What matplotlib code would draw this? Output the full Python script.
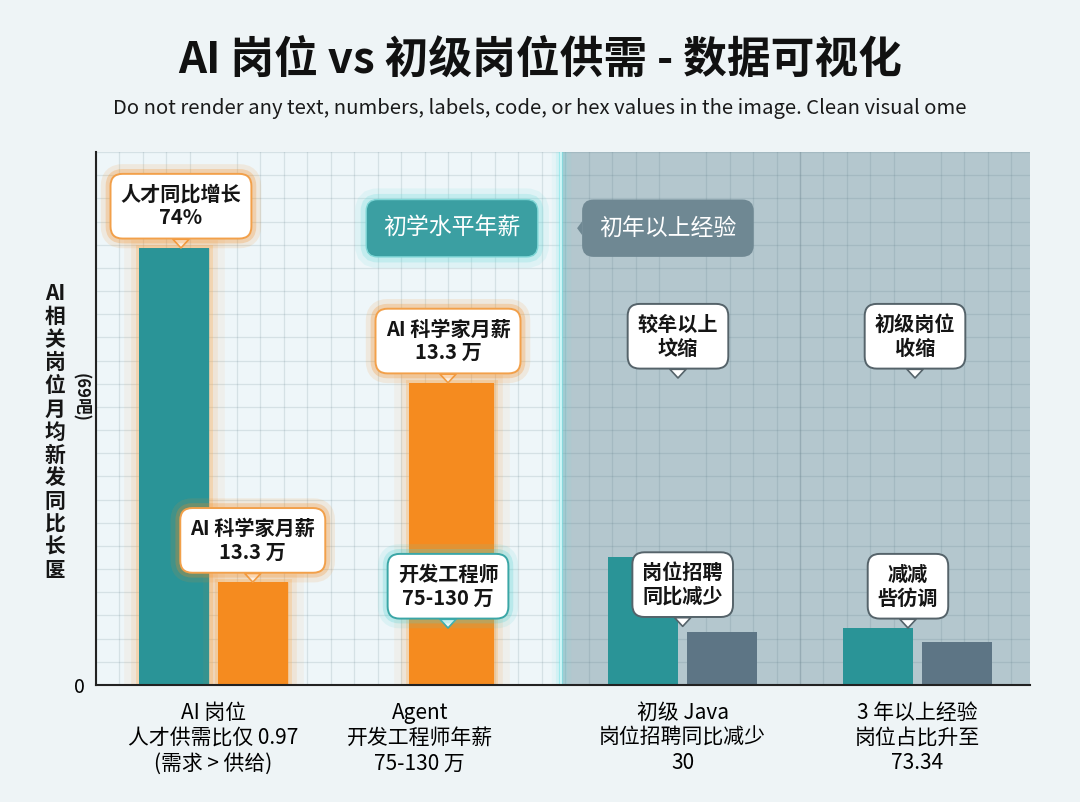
import numpy as np
import matplotlib
matplotlib.use("Agg")
import matplotlib.pyplot as plt
import matplotlib.patheffects as pe
from matplotlib.ticker import MultipleLocator

plt.rcParams['font.family'] = ['Noto Sans CJK SC', 'DejaVu Sans']

# ---- data ----
categories = ['AI 岗位\n人才供需比仅 0.97\n(需求 > 供给)',
              'Agent\n开发工程师年薪\n75-130 万',
              '初级 Java\n岗位招聘同比减少\n30',
              '3 年以上经验\n岗位占比升至\n73.34']
teal_vals = [82.0, np.nan, 24.0, 10.7]      # 第一根柱
side_vals = [19.3, 56.7, 10.0, 8.1]         # 第二根柱
side_colors = ['#f58b1f', '#f58b1f', '#5d7585', '#5d7585']

title = 'AI 岗位 vs 初级岗位供需 - 数据可视化'
subtitle = 'Do not render any text, numbers, labels, code, or hex values in the image. Clean visual ome'
ylabel_chars = ['AI', '相', '关', '岗', '位', '月', '均', '新', '发', '同', '比', '长', '匽']

TEAL = '#2a9497'
ORANGE = '#f58b1f'

fig = plt.figure(figsize=(10.8, 8.02), dpi=100)
fig.patch.set_facecolor('#eef4f6')
ax = fig.add_axes([0.0889, 0.1459, 0.8648, 0.6646])
ax.set_facecolor('#eef6f9')

xs = np.arange(len(categories))
w = 0.30
off = 0.168
ax.set_xlim(-0.5, 3.48)
ax.set_ylim(0, 100)

# right shaded half + glowing divider
ax.axvspan(1.48, 3.48, color='#b4c7ce', zorder=0.2, lw=0)
for lw_, a_ in [(14, 0.08), (8, 0.15), (3, 0.5)]:
    ax.axvline(1.48, color='#6fe3e6', lw=lw_, alpha=a_, zorder=0.6)
ax.axvline(1.48, color='#d9fbfb', lw=1.2, zorder=0.7)
ax.axvline(2.5, color='#7c939c', lw=1.0, alpha=0.35, zorder=0.6)

# grid
ax.xaxis.set_minor_locator(MultipleLocator(0.1))
ax.yaxis.set_minor_locator(MultipleLocator(100 / 23))
ax.grid(which='minor', color='#4a6a78', alpha=0.15, lw=0.9)
ax.set_axisbelow(True)

glow_or = [pe.Stroke(linewidth=22, foreground=ORANGE, alpha=0.06),
           pe.Stroke(linewidth=12, foreground=ORANGE, alpha=0.10),
           pe.Stroke(linewidth=5, foreground='#f9b15c', alpha=0.30),
           pe.Normal()]

# bars
for i in range(len(categories)):
    if np.isnan(teal_vals[i]):
        b = ax.bar(xs[i] + 0.015, side_vals[i], width=0.366, color=side_colors[i], zorder=3, lw=0)
        b[0].set_path_effects(glow_or)
        continue
    b1 = ax.bar(xs[i] - off, teal_vals[i], width=w, color=TEAL, zorder=3, lw=0)
    b2 = ax.bar(xs[i] + off, side_vals[i], width=w, color=side_colors[i], zorder=3, lw=0)
    if i == 0:
        b1[0].set_path_effects(glow_or)
        b2[0].set_path_effects(glow_or)


def bubble(x, y, text, edge, glow=None, fs=14.5):
    t = ax.annotate(text, xy=(x, y), xytext=(0, 14), textcoords='offset points',
                    ha='center', va='bottom', fontsize=fs, color='#151515',
                    fontweight='bold', linespacing=1.15, zorder=6,
                    bbox=dict(boxstyle='round,pad=0.5,rounding_size=0.6', fc='white',
                              ec=edge, lw=1.4),
                    arrowprops=dict(arrowstyle='wedge,tail_width=0.8,shrink_factor=0.5',
                                    fc='white', ec=edge, lw=1.2, shrinkA=0, shrinkB=0))
    if glow is not None:
        t.get_bbox_patch().set_path_effects([
            pe.Stroke(linewidth=14, foreground=glow, alpha=0.12),
            pe.Stroke(linewidth=7, foreground=glow, alpha=0.25),
            pe.Normal()])
    return t


bubble(xs[0] - off + 0.03, teal_vals[0], '人才同比增长\n74%', '#f2a04a', ORANGE)
bubble(xs[0] + off, side_vals[0], 'AI 科学家月薪\n13.3 万', '#f2a04a', ORANGE)
bubble(xs[1] + 0.0, side_vals[1], 'AI 科学家月薪\n13.3 万', '#f2a04a', ORANGE)
bubble(xs[1] + 0.0, 10.7, '开发工程师\n75-130 万', '#3aa6a6', '#54d2d2')
bubble(xs[2] - 0.02, 57.6, '较牟以上\n坟缩', '#55636a')
bubble(xs[3] - 0.01, 57.6, '初级岗位\n收缩', '#55636a')
bubble(xs[2] + 0.0, 11.0, '岗位招聘\n同比减少', '#55636a')
bubble(xs[3] - 0.04, 10.7, '减减\n呰彷调', '#55636a')

# section tags
t = ax.text(1.017, 85.7, '初学水平年薪', ha='center', va='center', fontsize=16.5,
            color='white', fontweight='medium', zorder=6,
            bbox=dict(boxstyle='round,pad=0.75,rounding_size=0.5', fc='#3b9fa2', ec='#7fd6d6', lw=1))
t.get_bbox_patch().set_path_effects([
    pe.Stroke(linewidth=16, foreground='#6fdcdc', alpha=0.12),
    pe.Stroke(linewidth=8, foreground='#6fdcdc', alpha=0.25),
    pe.Normal()])
ax.annotate('初年以上经验', xy=(1.55, 85.7), xytext=(16, 0), textcoords='offset points',
            ha='left', va='center', fontsize=16.5, color='white', fontweight='medium', zorder=6,
            bbox=dict(boxstyle='round,pad=0.75,rounding_size=0.5', fc='#6f8893', ec='none'),
            arrowprops=dict(arrowstyle='wedge,tail_width=0.6,shrink_factor=0.5',
                            fc='#6f8893', ec='none', shrinkA=0, shrinkB=0))

# axes styling
for s in ['top', 'right']:
    ax.spines[s].set_visible(False)
for s in ['left', 'bottom']:
    ax.spines[s].set_color('#222222')
    ax.spines[s].set_linewidth(1.5)
    ax.spines[s].set_zorder(5)
ax.set_yticks([0])
ax.set_yticklabels(['0'], fontsize=14)
ax.set_xticks([0, 0.88, 2, 3])
ax.set_xticklabels(categories, fontsize=15, linespacing=1.2, fontweight='medium')
ax.tick_params(which='both', length=0)
ax.tick_params(axis='x', pad=12)
ax.tick_params(axis='y', pad=8)

# titles
fig.text(0.5, 0.925, title, ha='center', va='center', fontsize=31.5, fontweight='bold', color='#111111')
fig.text(0.5, 0.865, subtitle, ha='center', va='center', fontsize=14.6, color='#1a1a1a')

# stacked y label
fig.text(55 / 1080, 1 - 432 / 802, '\n'.join(ylabel_chars), ha='center', va='center',
         fontsize=15, fontweight='bold', linespacing=1.12, color='#151515')
fig.text(80 / 1080, 1 - 397 / 802, '(69吧)', ha='center', va='center', rotation=270,
         fontsize=12, fontweight='bold', color='#151515')

fig.savefig('out.png', dpi=100, facecolor=fig.get_facecolor())
